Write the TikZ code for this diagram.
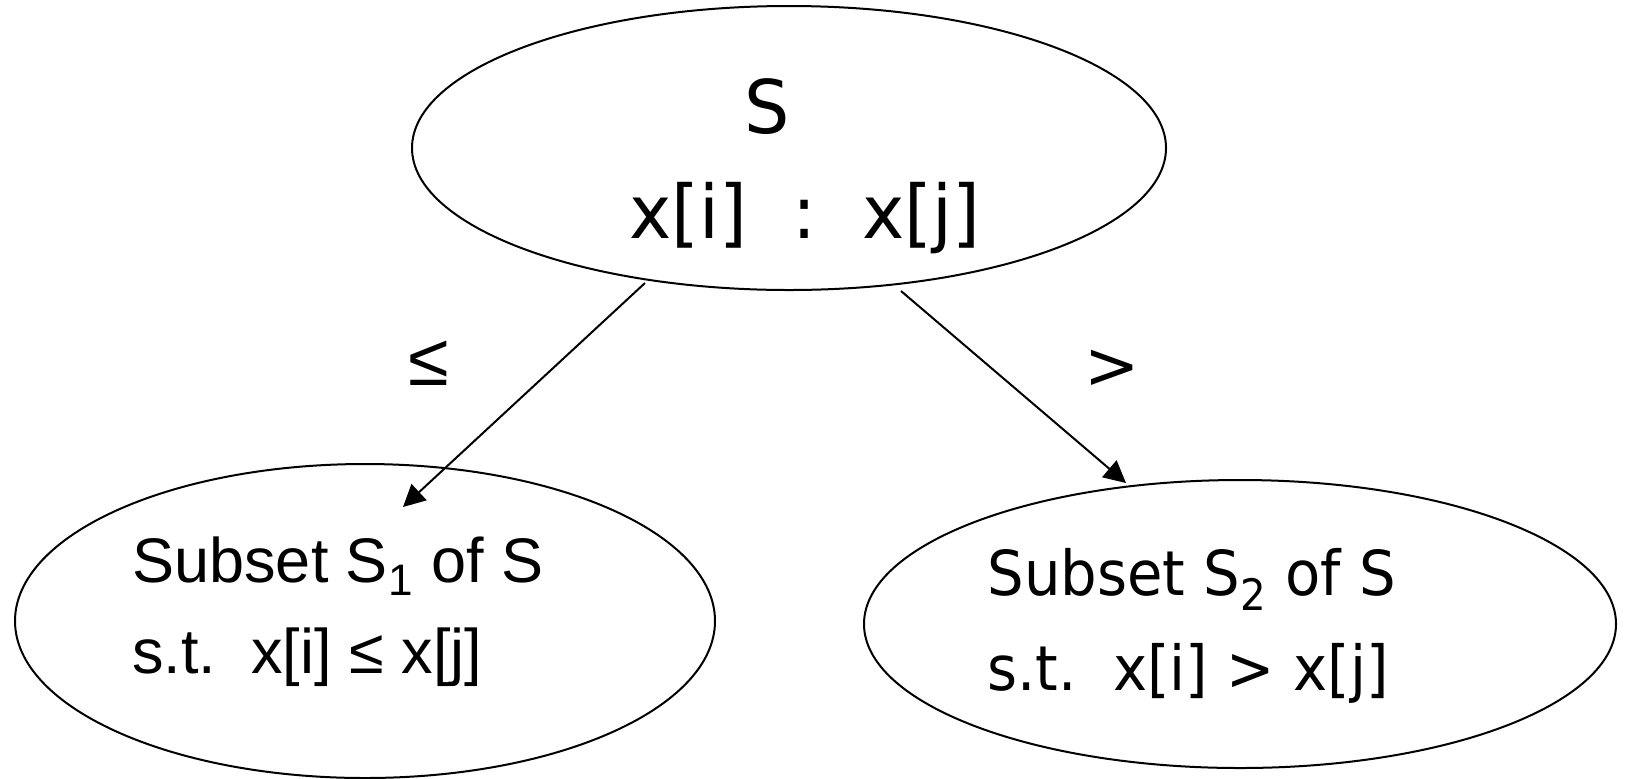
\documentclass[tikz,border=0pt]{standalone}
\usepackage{fontspec}
\usetikzlibrary{arrows.meta,shapes.geometric}
\newfontfamily\dvs{DejaVu Sans}
\newfontfamily\dvstop[FakeStretch=0.965]{DejaVu Sans}
\newfontfamily\dvsright[FakeStretch=0.93]{DejaVu Sans}
\newfontfamily\lbs{Liberation Sans}
\begin{document}
\begin{tikzpicture}[x=0.5pt,y=-0.5pt,
  oval/.style={draw,ellipse,line width=1pt,inner sep=0pt},
  toptext/.style={anchor=base west,inner sep=0pt,font=\dvstop\fontsize{37}{44}\selectfont},
  lefttext/.style={anchor=base west,inner sep=0pt,font=\lbs\fontsize{31.5}{38}\selectfont},
  righttext/.style={anchor=base west,inner sep=0pt,font=\dvsright\fontsize{31}{38}\selectfont},
  conn/.style={line width=1pt,-{Triangle[length=11pt,width=11pt]}},
  edgelabel/.style={anchor=base,inner sep=0pt}]
\useasboundingbox (0,0) rectangle (1626,778);
% ellipses
\node[oval,minimum width=377pt,minimum height=142pt] (top) at (789,148) {};
\node[oval,minimum width=350pt,minimum height=157pt] (left) at (365,621) {};
\node[oval,minimum width=376pt,minimum height=144pt] (right) at (1240,624) {};
% texts
\node[toptext] (tS) at (744,133) {S};
\node[toptext] (tcmp) at (629,238) {x[i]\ \ :\ \ x[j]};
\node[lefttext] (l1) at (132,582) {Subset S\textsubscript{1} of S};
\node[lefttext] (l2) at (132,673) {s.t.\ \ x[i] ≤ x[j]};
\node[righttext] (r1) at (987,595) {Subset S\textsubscript{2} of S};
\node[righttext] (r2) at (987,690) {s.t.\ \ x[i] > x[j]};
% connectors
\coordinate (a1s) at (645,283);
\coordinate (a1e) at (403,507);
\coordinate (a2s) at (901,291);
\coordinate (a2e) at (1126,483);
\draw[conn] (a1s) -- (a1e);
\draw[conn] (a2s) -- (a2e);
% edge labels
\node[edgelabel,font=\lbs\fontsize{37}{44}\selectfont] (le) at (429,385) {≤};
\node[edgelabel,font=\dvs\fontsize{33}{40}\selectfont] (gt) at (1112,388) {>};
\end{tikzpicture}
\end{document}
